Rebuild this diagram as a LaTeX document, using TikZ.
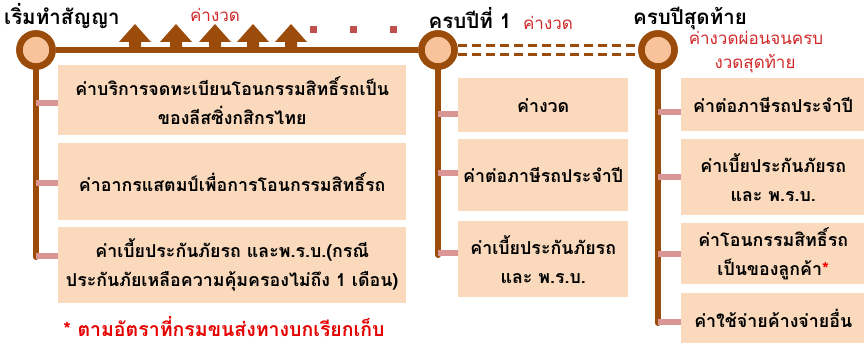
\documentclass[tikz,border=0pt]{standalone}
\usepackage{fontspec}
\newfontfamily\thai[Script=Thai]{Loma}
\definecolor{brn}{RGB}{155,75,10}
\definecolor{ringfill}{RGB}{248,195,155}
\definecolor{boxfill}{RGB}{250,217,188}
\definecolor{tick}{RGB}{217,150,148}
\definecolor{redtxt}{RGB}{208,40,40}
\definecolor{dotred}{RGB}{192,80,77}
\tikzset{
  ms/.style={circle,draw=brn,fill=ringfill,line width=6.5pt,minimum size=33pt,inner sep=0pt},
  bx/.style={fill=boxfill,draw=none,anchor=north west,inner sep=0pt,align=center,font=\thai\bfseries\fontsize{17.8}{29}\selectfont},
  tk/.style={draw=tick,line width=5.5pt},
  vl/.style={draw=brn,line width=6pt,line cap=round},
  ttl/.style={font=\thai\bfseries\fontsize{20.5}{22}\selectfont,text=black},
  rl/.style={font=\thai\fontsize{17}{24}\selectfont,text=redtxt,align=center},
  arr/.style={fill=brn,draw=none},
  dsh/.style={draw=brn,line width=3pt,dash pattern=on 9pt off 5pt}
}
\begin{document}
\begin{tikzpicture}[x=1pt,y=-1pt]
\useasboundingbox (0,0) rectangle (864,344);
% milestones
\node[ms] (m1) at (36,50) {};
\node[ms] (m2) at (438,50) {};
\node[ms] (m3) at (658,50) {};
\coordinate (v1) at (36,257);
\coordinate (v2) at (438,255);
\coordinate (v3) at (658,323);
% main line and arrows
\draw[draw=brn,line width=6pt] (m1.east) -- (m2.west);
\foreach \ax in {135,176,215,253,291}{
  \fill[arr] (\ax-16,42) -- (\ax,24) -- (\ax+16,42) -- (\ax+6,42) -- (\ax+6,50) -- (\ax-6,50) -- (\ax-6,42) -- cycle;
}
\foreach \dx in {313,353,393}{
  \fill[dotred] (\dx-3.5,26) rectangle (\dx+3.5,33);
}
% dashed double lines
\draw[dsh] ([yshift=-5pt]m2.east) -- ([yshift=-5pt]m3.west);
\draw[dsh] ([yshift=4pt]m2.east) -- ([yshift=4pt]m3.west);
% verticals
\draw[vl] (m1.south) -- (v1);
\draw[vl] (m2.south) -- (v2);
\draw[vl] (m3.south) -- (v3);
% redraw circles on top
\node[ms] at (36,50) {};
\node[ms] at (438,50) {};
\node[ms] at (658,50) {};
% titles
\node[ttl] (t1) at (62,16) {เริ่มทำสัญญา};
\node[ttl] (t2) at (470,18) {ครบปีที่ 1};
\node[ttl] (t3) at (690,18) {ครบปีสุดท้าย};
\node[rl] (r1) at (215,15) {ค่างวด};
\node[rl] (r2) at (548,23) {ค่างวด};
\node[rl] (r3) at (756,38) {ค่างวดผ่อนจนครบ};
\node[rl] (r4) at (755,64) {งวดสุดท้าย};
% column 1 boxes
\node[bx,minimum width=348pt,minimum height=70pt] (a1) at (58,65) {ค่าบริการจดทะเบียนโอนกรรมสิทธิ์รถเป็น\\ของลีสซิ่งกสิกรไทย};
\node[bx,minimum width=348pt,minimum height=77pt] (a2) at (58,143) {ค่าอากรแสตมป์เพื่อการโอนกรรมสิทธิ์รถ};
\node[bx,minimum width=348pt,minimum height=76pt] (a3) at (58,227) {ค่าเบี้ยประกันภัยรถ และพ.ร.บ.(กรณี\\ประกันภัยเหลือความคุ้มครองไม่ถึง 1 เดือน)};
\draw[tk] (36,103) -- (a1.west|-0,103);
\draw[tk] (36,183) -- (a2.west|-0,183);
\draw[tk] (36,256) -- (a3.west|-0,256);
% column 2 boxes
\node[bx,minimum width=170pt,minimum height=54pt] (b1) at (458,78) {ค่างวด};
\node[bx,minimum width=170pt,minimum height=72pt] (b2) at (458,139) {ค่าต่อภาษีรถประจำปี};
\node[bx,minimum width=170pt,minimum height=76pt] (b3) at (458,221) {ค่าเบี้ยประกันภัยรถ\\และ พ.ร.บ.};
\draw[tk] (438,114) -- (b1.west|-0,114);
\draw[tk] (438,173) -- (b2.west|-0,173);
\draw[tk] (438,253) -- (b3.west|-0,253);
% column 3 boxes
\node[bx,minimum width=184pt,minimum height=53pt] (c1) at (681,78) {ค่าต่อภาษีรถประจำปี};
\node[bx,minimum width=184pt,minimum height=76pt] (c2) at (681,139) {ค่าเบี้ยประกันภัยรถ\\และ พ.ร.บ.};
\node[bx,minimum width=184pt,minimum height=61pt] (c3) at (681,223) {ค่าโอนกรรมสิทธิ์รถ\\เป็นของลูกค้า\textcolor{red}{*}};
\node[bx,minimum width=184pt,minimum height=50pt] (c4) at (681,293) {ค่าใช้จ่ายค้างจ่ายอื่น};
\draw[tk] (658,112) -- (c1.west|-0,112);
\draw[tk] (658,177) -- (c2.west|-0,177);
\draw[tk] (658,254) -- (c3.west|-0,254);
\draw[tk] (658,322) -- (c4.west|-0,322);
% footnote
\node[font=\thai\bfseries\fontsize{19.5}{20}\selectfont,text=red!90!black,anchor=base] (fn) at (224,337) {* ตามอัตราที่กรมขนส่งทางบกเรียกเก็บ};
\end{tikzpicture}
\end{document}
